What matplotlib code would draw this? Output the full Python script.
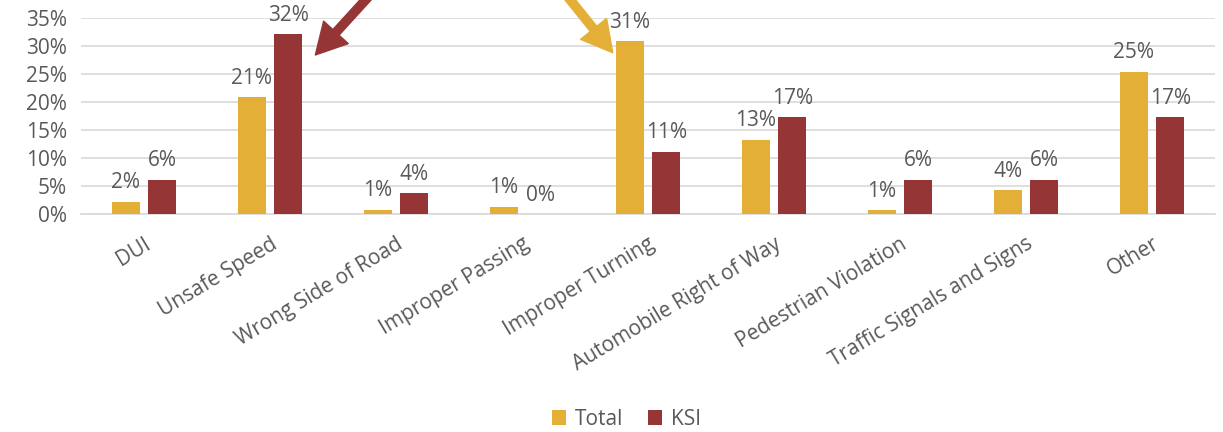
import numpy as np
import matplotlib.pyplot as plt
from matplotlib.ticker import PercentFormatter

categories = ["DUI", "Unsafe Speed", "Wrong Side of Road", "Improper Passing",
              "Improper Turning", "Automobile Right of Way", "Pedestrian Violation",
              "Traffic Signals and Signs", "Other"]
total = [2.2, 20.9, 0.8, 1.3, 30.9, 13.3, 0.7, 4.3, 25.4]
ksi = [6.1, 32.1, 3.7, 0.0, 11.1, 17.3, 6.1, 6.1, 17.3]

gold = "#E3AF37"
red = "#963536"
txt = "#595959"

plt.rcParams['font.family'] = ['Open Sans', 'DejaVu Sans']

fig = plt.figure(figsize=(12.23, 4.32), dpi=100)
ax = fig.add_axes([81 / 1223, 1 - 214 / 432, (1215 - 81) / 1223, (214 - 18) / 432])

x = np.arange(len(categories))
w = 0.22
off = 0.145
b1 = ax.bar(x - off, total, w, color=gold, label="Total", zorder=3)
b2 = ax.bar(x + off, ksi, w, color=red, label="KSI", zorder=3)

for bars, vals in ((b1, total), (b2, ksi)):
    for b, v in zip(bars, vals):
        ax.text(b.get_x() + b.get_width() / 2, v + 1.5, f"{round(v):.0f}%",
                ha="center", va="bottom", fontsize=15, color=txt)

ax.set_xlim(-0.5, len(categories) - 0.5)
ax.set_ylim(0, 35)
ax.set_yticks(range(0, 36, 5))
ax.yaxis.set_major_formatter(PercentFormatter(decimals=0))
ax.grid(axis="y", color="#D9D9D9", linewidth=1.2, zorder=0)
for s in ("top", "right", "left"):
    ax.spines[s].set_visible(False)
ax.spines["bottom"].set_color("#D9D9D9")
ax.spines["bottom"].set_linewidth(1.2)
ax.tick_params(axis="both", length=0, labelsize=15, colors=txt)
ax.tick_params(axis="y", pad=10)
ax.tick_params(axis="x", pad=14)
ax.set_xticks(x)
ax.set_xticklabels(categories, rotation=31, ha="right", rotation_mode="anchor")

# arrows pointing at the largest bars
ax.annotate("", xy=(1.36, 28.4), xytext=(1.83, 40),
            arrowprops=dict(facecolor=red, edgecolor=red, width=6, headwidth=24, headlength=22),
            annotation_clip=False)
ax.annotate("", xy=(3.72, 28.8), xytext=(3.32, 40),
            arrowprops=dict(facecolor=gold, edgecolor=gold, width=6, headwidth=24, headlength=22),
            annotation_clip=False)

fig.legend(handles=[b1, b2], loc="center", bbox_to_anchor=(0.512, 0.03), ncol=2,
           frameon=False, fontsize=15, labelcolor=txt, handlelength=0.7,
           handleheight=0.7, columnspacing=1.2, handletextpad=0.4)

fig.savefig("out.png", dpi=100)
